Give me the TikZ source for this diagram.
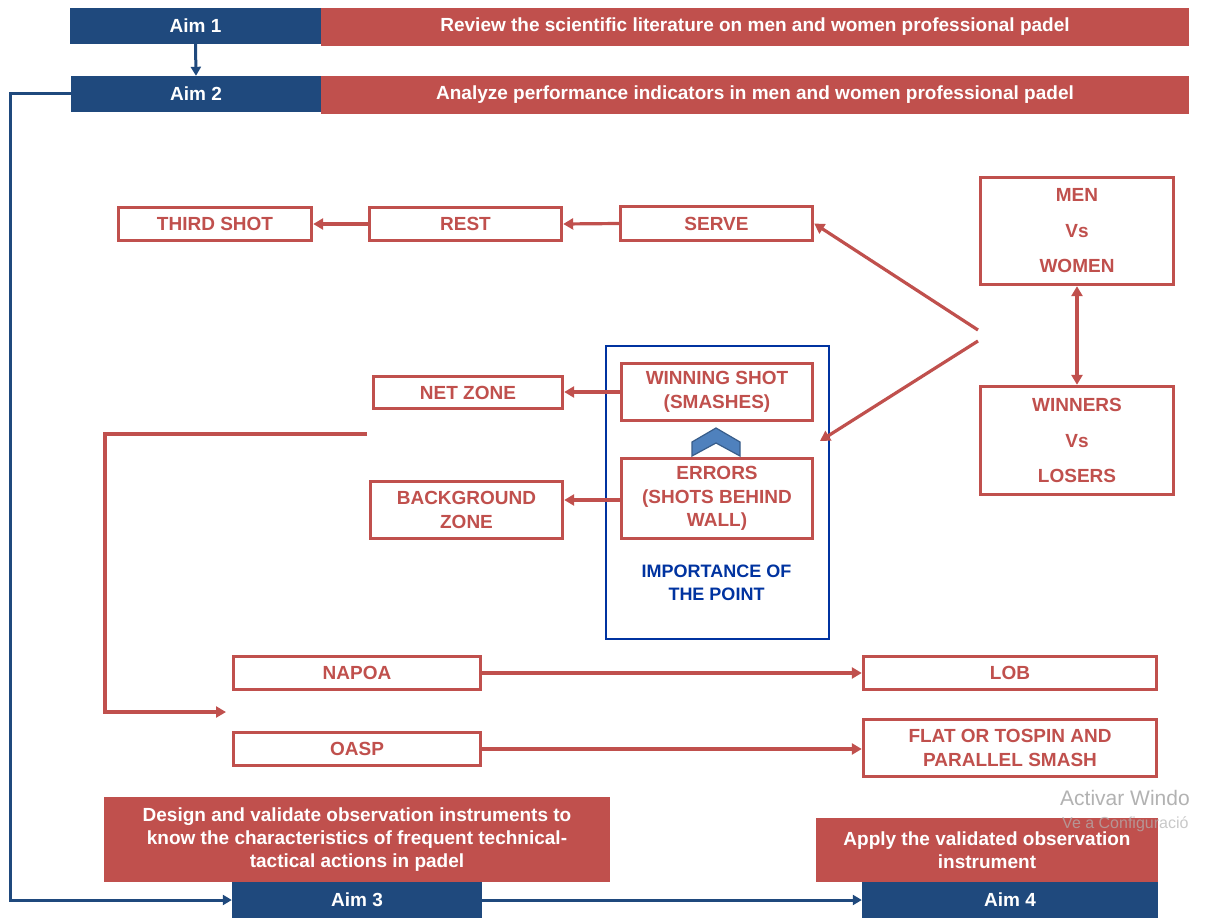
\documentclass[tikz,border=0pt]{standalone}
\usepackage{fontspec}
\setmainfont{Liberation Sans}
\usetikzlibrary{arrows.meta}
\definecolor{offred}{HTML}{C0504D}
\definecolor{aimblue}{HTML}{1F497D}
\definecolor{impblue}{HTML}{0033A0}
\definecolor{chev}{HTML}{4F81BD}
\definecolor{chevdark}{HTML}{385D8A}
\begin{document}
\begin{tikzpicture}[x=1pt,y=-1pt,
  aimbox/.style={fill=aimblue, text=white, font=\bfseries\fontsize{19}{23}\selectfont, inner sep=0pt},
  goalbox/.style={fill=offred, text=white, font=\bfseries\fontsize{19}{23}\selectfont, align=center, inner sep=0pt},
  redbox/.style={draw=offred, line width=3.4pt, text=offred, font=\bfseries\fontsize{19}{23.5}\selectfont, align=center, inner sep=0pt},
  redline/.style={draw=offred, line width=3.2pt},
  redarrow/.style={redline, -{Triangle[length=10pt,width=11pt]}},
  bluearrow/.style={draw=aimblue, line width=3pt, -{Triangle[length=9pt,width=10pt]}},
]
\useasboundingbox (0,0) rectangle (1213,920);
\fill[white] (0,0) rectangle (1213,920);

% top aims
\node[goalbox, minimum width=868pt, minimum height=38pt] (rev1) at (755,27) {Review the scientific literature on men and women professional padel};
\node[aimbox, minimum width=251pt, minimum height=36pt] (aim1) at (195.5,26) {Aim 1};
\node[goalbox, minimum width=868pt, minimum height=38pt] (rev2) at (755,95) {Analyze performance indicators in men and women professional padel};
\node[aimbox, minimum width=250pt, minimum height=36pt] (aim2) at (196,94) {Aim 2};

% first row
\node[redbox, minimum width=193pt, minimum height=33pt] (third) at (215,224) {THIRD SHOT};
\node[redbox, minimum width=192pt, minimum height=33pt] (rest) at (465.5,224) {REST};
\node[redbox, minimum width=192pt, minimum height=34pt] (serve) at (716.5,223.5) {SERVE};

% right side
\node[redbox, minimum width=193pt, minimum height=107pt] (men) at (1077,231) {MEN\\[12pt]Vs\\[12pt]WOMEN};
\node[redbox, minimum width=193pt, minimum height=108pt] (winners) at (1077,440.5) {WINNERS\\[12pt]Vs\\[12pt]LOSERS};

% importance box
\node[draw=impblue, line width=2.8pt, minimum width=223pt, minimum height=293pt, inner sep=0pt] (imp) at (717.5,492.5) {};
\node[redbox, minimum width=191pt, minimum height=57pt] (winning) at (717,392) {WINNING SHOT\\(SMASHES)};
\node[redbox, minimum width=191pt, minimum height=80pt] (errors) at (717,498.5) {ERRORS\\(SHOTS BEHIND\\WALL)};
\node[text=impblue, font=\bfseries\fontsize{18}{23}\selectfont, align=center, inner sep=0pt] (imptext) at (716.5,582.5) {IMPORTANCE OF\\THE POINT};
\filldraw[fill=chev, draw=chevdark, line width=1.2pt] (692,442) -- (716,428) -- (740,442) -- (740,456) -- (716,443) -- (692,456) -- cycle;

% zones
\node[redbox, minimum width=189pt, minimum height=32pt] (net) at (468,392.5) {NET ZONE};
\node[redbox, minimum width=192pt, minimum height=57pt] (back) at (466.5,510) {BACKGROUND\\ZONE};

% lower rows
\node[redbox, minimum width=247pt, minimum height=33pt] (napoa) at (357,673) {NAPOA};
\node[redbox, minimum width=293pt, minimum height=33pt] (lob) at (1010,673) {LOB};
\node[redbox, minimum width=247pt, minimum height=33pt] (oasp) at (357,749) {OASP};
\node[redbox, minimum width=293pt, minimum height=57pt] (flat) at (1010,748) {FLAT OR TOSPIN AND\\PARALLEL SMASH};

% bottom aims
\node[goalbox, minimum width=506pt, minimum height=85pt] (design) at (357,839.5) {Design and validate observation instruments to\\know the characteristics of frequent technical-\\tactical actions in padel};
\node[aimbox, minimum width=250pt, minimum height=36pt] (aim3) at (357,900) {Aim 3};
\node[goalbox, minimum width=342pt, minimum height=64pt] (apply) at (987,850) {Apply the validated observation\\instrument};
\node[aimbox, minimum width=296pt, minimum height=36pt] (aim4) at (1010,900) {Aim 4};

% coordinates
\coordinate (fork1) at (978,330);
\coordinate (fork2) at (978,341);
\coordinate (imptip) at (820,441);
\coordinate (lstart) at (367,434);
\coordinate (lcorner1) at (105,434);
\coordinate (lcorner2) at (105,712);
\coordinate (ltip) at (226,712);
\coordinate (bcorner1) at (10,94);
\coordinate (bcorner2) at (10,900);

% connectors
\draw[bluearrow] (aim1.south) -- (aim2.north);
\draw[bluearrow] (aim2.west) -- (bcorner1) -- (bcorner2) -- (aim3.west);
\draw[bluearrow] (aim3.east) -- (aim4.west);

\draw[redarrow] (serve.west) -- (rest.east);
\draw[redarrow] (rest.west) -- (third.east);
\draw[redarrow] (fork1) -- (serve.east);
\draw[redarrow] (fork2) -- (imptip);
\draw[redarrow, {Triangle[length=10pt,width=11pt]}-{Triangle[length=10pt,width=11pt]}] (men.south) -- (winners.north);
\draw[redarrow] (winning.west) -- (winning.west -| net.east);
\draw[redarrow] ([yshift=-1.5pt]errors.west) -- ([yshift=-1.5pt]errors.west -| back.east);
\draw[redarrow] (lstart) -- (lcorner1) -- (lcorner2) -- (ltip);
\draw[redarrow] (napoa.east) -- (lob.west);
\draw[redarrow] (oasp.east) -- (oasp.east -| flat.west);

% watermark
\node[anchor=base west, text=black!30, font=\fontsize{21}{21}\selectfont, inner sep=0pt] (wm1) at (1060,805) {Activar Windo};
\node[anchor=base west, text=black!30, opacity=0.7, font=\fontsize{16}{16}\selectfont, inner sep=0pt] (wm2) at (1062,828) {Ve a Configuració};
\end{tikzpicture}
\end{document}
